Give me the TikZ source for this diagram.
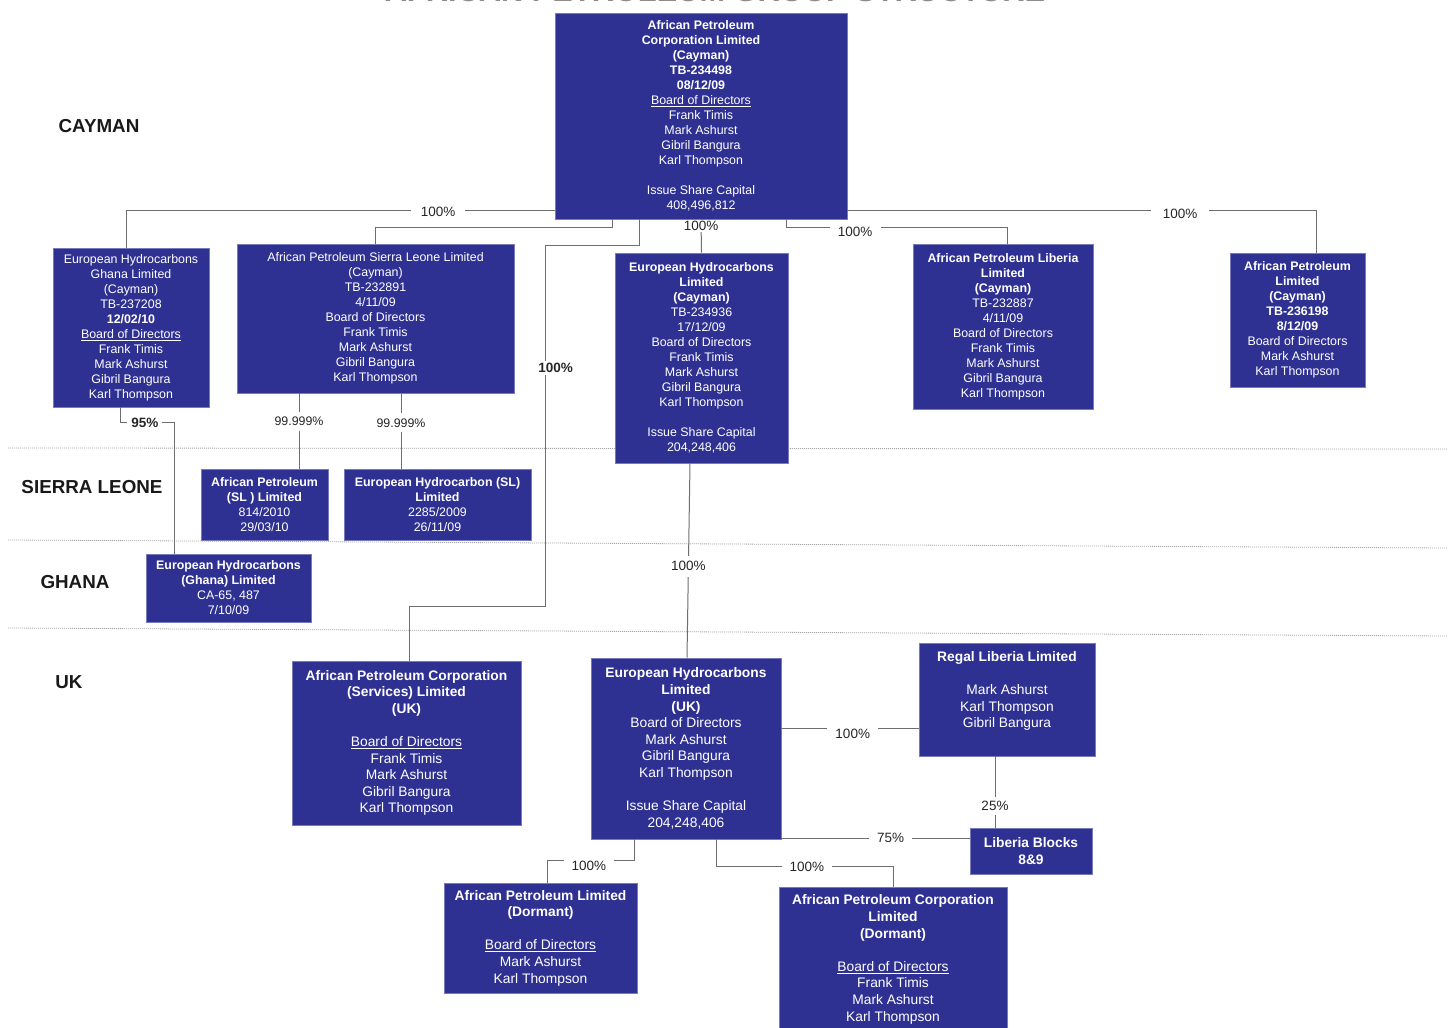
\documentclass[tikz,border=0pt]{standalone}
\usepackage{fontspec}
\setmainfont{Liberation Sans}
\usetikzlibrary{calc}
\definecolor{boxblue}{RGB}{47,49,146}
\definecolor{boxedge}{RGB}{120,122,190}
\definecolor{linegray}{RGB}{110,110,110}
\definecolor{sepgray}{RGB}{165,165,165}
\tikzset{
  entity/.style={rectangle, fill=boxblue, draw=boxedge, line width=0.8pt, text=white, align=center, inner sep=0pt, font=\fontsize{12.4}{15}\selectfont},
  ukentity/.style={entity, font=\fontsize{13.8}{16.6}\selectfont},
  conn/.style={draw=linegray, line width=1pt},
  pct/.style={fill=white, inner ysep=2pt, inner xsep=8pt, text=black!85, font=\fontsize{13.5}{16}\selectfont},
  pctb/.style={pct, inner xsep=2pt, font=\fontsize{13.5}{16}\selectfont\bfseries},
  pcts/.style={pct, inner xsep=2pt, font=\fontsize{12.4}{15}\selectfont},
  region/.style={font=\fontsize{18.8}{22}\selectfont\bfseries, text=black!90},
  sepline/.style={draw=sepgray, line width=0.8pt, dash pattern=on 1pt off 1pt},
}
\begin{document}
\begin{tikzpicture}[x=1pt, y=-1pt]
\useasboundingbox (0,0) rectangle (1452,1028);
\clip (0,0) rectangle (1452,1028);
\fill[white] (0,0) rectangle (1452,1028);

% title (cut off at top edge, as in the reference)
\node[font=\fontsize{30.8}{36}\selectfont\bfseries, text=black!45, anchor=base] (title) at (715,1.2) {AFRICAN PETROLEUM GROUP STRUCTURE};

% jurisdiction separators
\draw[sepline] (8,448) -- (1448,449);
\draw[sepline] (8,540) -- (1448,548);
\draw[sepline] (8,628) -- (1448,636);

% region labels
\node[region] (cay) at (99,126) {CAYMAN};
\node[region] (sle) at (92,487) {SIERRA LEONE};
\node[region] (gha) at (75,582) {GHANA};
\node[region] (uk) at (69,682) {UK};

% Cayman tier
\node[entity, minimum width=292pt, minimum height=206pt] (top) at (701,116) {\textbf{African Petroleum}\\\textbf{Corporation Limited}\\\textbf{(Cayman)}\\\textbf{TB-234498}\\\textbf{08/12/09}\\\underline{Board of Directors}\\Frank Timis\\Mark Ashurst\\Gibril Bangura\\Karl Thompson\\[15pt]Issue Share Capital\\408,496,812};

\node[entity, minimum width=156pt, minimum height=159pt] (ehg) at (131,327.5) {European Hydrocarbons\\Ghana Limited\\(Cayman)\\TB-237208\\\textbf{12/02/10}\\\underline{Board of Directors}\\Frank Timis\\Mark Ashurst\\Gibril Bangura\\Karl Thompson};

\node[entity, minimum width=277pt, minimum height=149pt] (apsl) at (375.5,318.5) {African Petroleum Sierra Leone Limited\\(Cayman)\\TB-232891\\4/11/09\\Board of Directors\\Frank Timis\\Mark Ashurst\\Gibril Bangura\\Karl Thompson};

\node[entity, minimum width=173pt, minimum height=210pt] (ehc) at (701.5,358) {\textbf{European Hydrocarbons}\\\textbf{Limited}\\\textbf{(Cayman)}\\TB-234936\\17/12/09\\Board of Directors\\Frank Timis\\Mark Ashurst\\Gibril Bangura\\Karl Thompson\\[15pt]Issue Share Capital\\204,248,406};

\node[entity, minimum width=180pt, minimum height=165pt] (aplib) at (1003,326.5) {\textbf{African Petroleum Liberia}\\\textbf{Limited}\\\textbf{(Cayman)}\\TB-232887\\4/11/09\\Board of Directors\\Frank Timis\\Mark Ashurst\\Gibril Bangura\\Karl Thompson};

\node[entity, minimum width=135pt, minimum height=134pt] (apl) at (1297.5,320) {\textbf{African Petroleum}\\\textbf{Limited}\\\textbf{(Cayman)}\\\textbf{TB-236198}\\\textbf{8/12/09}\\Board of Directors\\Mark Ashurst\\Karl Thompson};

% Sierra Leone tier
\node[entity, minimum width=127pt, minimum height=71pt] (slap) at (264.5,504.5) {\textbf{African Petroleum}\\\textbf{(SL ) Limited}\\814/2010\\29/03/10};
\node[entity, minimum width=187pt, minimum height=71pt] (ehsl) at (437.5,504.5) {\textbf{European Hydrocarbon (SL)}\\\textbf{Limited}\\2285/2009\\26/11/09};

% Ghana tier
\node[entity, minimum width=165pt, minimum height=68pt] (ehgh) at (228.5,588) {\textbf{European Hydrocarbons}\\\textbf{(Ghana) Limited}\\CA-65, 487\\7/10/09};

% UK tier
\node[ukentity, minimum width=229pt, minimum height=164pt] (apcs) at (406.5,743) {\textbf{African Petroleum Corporation}\\\textbf{(Services) Limited}\\\textbf{(UK)}\\[16.6pt]\underline{Board of Directors}\\Frank Timis\\Mark Ashurst\\Gibril Bangura\\Karl Thompson};

\node[ukentity, minimum width=190pt, minimum height=181pt] (ehuk) at (686,748.5) {\textbf{European Hydrocarbons}\\\textbf{Limited}\\\textbf{(UK)}\\Board of Directors\\Mark Ashurst\\Gibril Bangura\\Karl Thompson\\[16.6pt]Issue Share Capital\\204,248,406};

\node[ukentity, minimum width=176pt, minimum height=113pt] (regal) at (1007,699.5) {\textbf{Regal Liberia Limited}\\[16.6pt]Mark Ashurst\\Karl Thompson\\Gibril Bangura\\[3pt]\rule{0pt}{0pt}};

\node[ukentity, minimum width=122pt, minimum height=46pt] (libb) at (1031,851) {\textbf{Liberia Blocks}\\\textbf{8\&9}};

\node[ukentity, minimum width=193pt, minimum height=110pt] (apld) at (540.5,938) {\textbf{African Petroleum Limited}\\\textbf{(Dormant)}\\[16.6pt]\underline{Board of Directors}\\Mark Ashurst\\Karl Thompson};

\node[ukentity, minimum width=228pt, minimum height=145pt] (apcd) at (893,959.5) {\textbf{African Petroleum Corporation}\\\textbf{Limited}\\\textbf{(Dormant)}\\[16.6pt]\underline{Board of Directors}\\Frank Timis\\Mark Ashurst\\Karl Thompson};

% connectors
\draw[conn] ([yshift=9pt]top.south west) -| ([xshift=-5pt]ehg.north) node[pct, pos=0.136, yshift=-1pt, inner xsep=10pt] {100\%};
\draw[conn] ([xshift=58pt]top.south west) -- ++(0,8) -| (apsl.north);
\draw[conn] ([xshift=85pt]top.south west) -- ++(0,26) -- ++(-94,0) -- ++(0,361) node[pctb, pos=0.34, xshift=10pt] {100\%} -| ([xshift=2.5pt]apcs.north);
\draw[conn] (top.south) -- (ehc.north) node[pct, pos=0.2, inner sep=1pt] {100\%};
\draw[conn] ([xshift=-61pt]top.south east) -- ++(0,8) -| ([xshift=4pt]aplib.north) node[pct, pos=0.156, yshift=-4pt, inner ysep=4pt] {100\%};
\draw[conn] ([yshift=9pt]top.south east) -| ([xshift=18.5pt]apl.north) node[pct, pos=0.355, yshift=-3pt, inner xsep=12pt] {100\%};

\draw[conn] ([xshift=-11pt]ehg.south) -- ++(0,15) -| ([xshift=-54.5pt]ehgh.north) node[pctb, pos=0.23, inner xsep=4pt] {95\%};
\draw[conn] ([xshift=-76.5pt]apsl.south) -- ([xshift=34.5pt]slap.north) node[pcts, pos=0.37, inner ysep=5pt] {99.999\%};
\draw[conn] ([xshift=25.5pt]apsl.south) -- ([xshift=-36.5pt]ehsl.north) node[pcts, pos=0.39, inner ysep=5pt] {99.999\%};

\draw[conn] ([xshift=-11.5pt]ehc.south) -- ([xshift=1pt]ehuk.north) node[pct, pos=0.53, inner ysep=6pt] {100\%};

\draw[conn] ([yshift=-28.5pt]regal.west) coordinate (r1) -- (r1 -| ehuk.east) node[pct, pos=0.48, yshift=-6pt, inner ysep=4pt] {100\%};
\draw[conn] ([xshift=-12pt]regal.south) -- ([xshift=-36pt]libb.north) node[pct, pos=0.7, inner ysep=4pt] {25\%};
\draw[conn] ([yshift=13pt]libb.west) coordinate (l1) -- (l1 -| ehuk.east) node[pct, pos=0.42] {75\%};
\draw[conn] ([xshift=-52pt]ehuk.south) -- ++(0,21) -| ([xshift=6.5pt]apld.north) node[pct, pos=0.26, yshift=-5pt, inner ysep=4pt] {100\%};
\draw[conn] ([xshift=30pt]ehuk.south) -- ++(0,27) -| (apcd.north) node[pct, pos=0.257] {100\%};
\end{tikzpicture}
\end{document}
